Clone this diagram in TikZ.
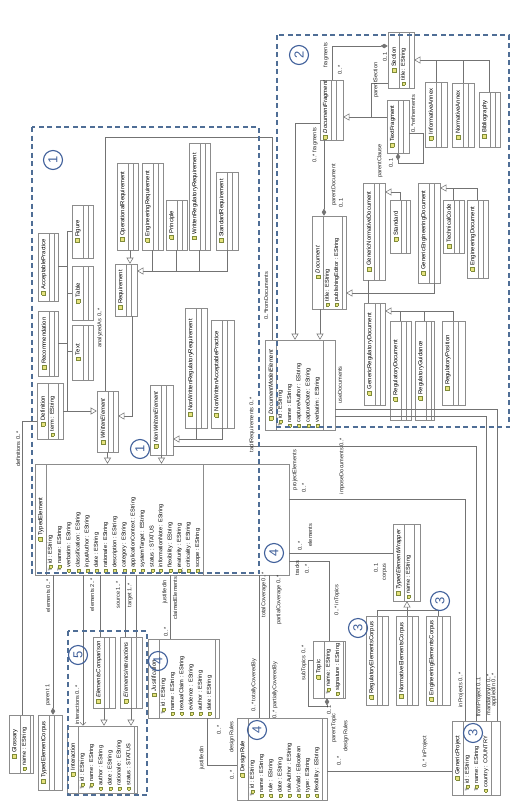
\documentclass[tikz,border=0pt]{standalone}
\usepackage{fontspec}
\setmainfont{Liberation Sans}
\usetikzlibrary{arrows.meta,fit,calc}
\definecolor{clsborder}{HTML}{8C8C8C}
\definecolor{icofill}{HTML}{E6E27C}
\definecolor{icoline}{HTML}{7F8B3A}
\definecolor{grpblue}{HTML}{4F6E96}
\definecolor{circblue}{HTML}{3F5F9A}
\newcommand\tico{{\setlength\fboxsep{0pt}\setlength\fboxrule{0.35pt}\fcolorbox{icoline}{icofill}{\rule{0pt}{3.6pt}\rule{3.6pt}{0pt}}}}
\newcommand\aico{{\setlength\fboxsep{0pt}\setlength\fboxrule{0.3pt}\fcolorbox{icoline}{icofill}{\rule{0pt}{2.6pt}\rule{2.6pt}{0pt}}}}
\newcommand\AT[1]{\aico\hspace{1.3pt}#1}
\newcommand\KT[1]{{\color{gray}Ŧ}\hspace{0.3pt}\aico\hspace{1.3pt}#1}
\tikzset{
 clsnode/.style={draw=clsborder, fill=white, inner sep=0pt, line width=0.6pt},
 clsline/.style={draw=clsborder, line width=0.5pt},
 ttl/.style={rotate=90, inner sep=0pt, font=\fontsize{5.9}{7}\selectfont},
 attr/.style={rotate=90, anchor=west, inner sep=0pt, font=\fontsize{5.6}{6.5}\selectfont},
 lbl/.style={rotate=90, inner sep=0pt, font=\fontsize{5.6}{6.5}\selectfont, text=black!85},
 conn/.style={draw=black!55, line width=0.55pt},
 gen/.style={conn, -{Triangle[length=6pt,width=7pt,fill=white]}},
 comp/.style={conn, {Diamond[length=7pt,width=4.5pt]}-},
 grp/.style={draw=grpblue, line width=1.4pt, dash pattern=on 5pt off 3.5pt},
 circ/.style={draw=circblue, circle, line width=1.1pt, minimum size=19pt, inner sep=0pt, text=circblue, font=\fontsize{13}{13}\selectfont, rotate=90},
}
% #1 name, #2 x1, #3 y1, #4 x2, #5 y2, #6 title, #7 n attrs, #8 attrs
\newcommand\cls[8]{%
 \coordinate (#1-a) at (#2,#3);
 \coordinate (#1-b) at (#4,#5);
 \node[clsnode, fit=(#1-a)(#1-b)] (#1) {};
 \draw[clsline] (#2+11,#3) -- (#2+11,#5);
 \node[ttl] at (#2+5.8,{(#3+#5)/2}) {\tico\hspace{1.5pt}#6};
 \ifnum#7>0
  \foreach \myat [count=\i from 0] in {#8} {\node[attr] at ({#2+15.5+\i*9.2},#5-3) {\myat};}
  \draw[clsline] ({#2+12+#7*9.2},#3) -- ({#2+12+#7*9.2},#5);
 \else
  \draw[clsline] (#2+16,#3) -- (#2+16,#5);
 \fi
}
\begin{document}
\begin{tikzpicture}[x=1pt,y=-1pt]
\useasboundingbox[fill=white] (0,0) rectangle (515,811);

% ---------- group 2 : documents
\cls{Section}{388}{32}{414}{88}{Section}{1}{\AT{title : EString}}
\cls{TextFragment}{387}{100}{409}{153}{TextFragment}{0}{}
\cls{InformativeAnnex}{425}{82}{447}{147}{InformativeAnnex}{0}{}
\cls{NormativeAnnex}{452}{83}{474}{147}{NormativeAnnex}{0}{}
\cls{Bibliography}{479}{92}{500}{147}{Bibliography}{0}{}
\cls{DocumentFragment}{320}{80}{343}{140}{\itshape DocumentFragment}{0}{}
\cls{Document}{312}{216}{346}{309}{\itshape Document}{2}{\AT{title : EString},\AT{publishingEditor : EString}}
\cls{GenericNormativeDocument}{363}{183}{385}{280}{GenericNormativeDocument}{0}{}
\cls{Standard}{390}{200}{410}{253}{Standard}{0}{}
\cls{GenericEngineeringDocument}{418}{183}{440}{283}{GenericEngineeringDocument}{0}{}
\cls{TechnicalCode}{443}{200}{464}{253}{TechnicalCode}{0}{}
\cls{EngineeringDocument}{467}{200}{488}{278}{EngineeringDocument}{0}{}
\cls{GenericRegulatoryDocument}{364}{303}{385}{405}{GenericRegulatoryDocument}{0}{}
\cls{RegulatoryDocument}{390}{321}{411}{420}{RegulatoryDocument}{0}{}
\cls{RegulatoryGuidance}{415}{321}{434}{420}{RegulatoryGuidance}{0}{}
\cls{RegulatoryPosition}{442}{321}{465}{405}{RegulatoryPosition}{0}{}
\cls{DocumentModelElement}{265}{340}{335}{430}{\itshape DocumentModelElement}{5}{\KT{id : EString},\AT{name : EString},\AT{captureAuthor : EString},\AT{captureDate : EString},\AT{verbatim : EString}}

% ---------- group 1 : requirements
\cls{Definition}{37}{383}{63}{439}{Definition}{1}{\AT{term : EString}}
\cls{Recommendation}{38}{311}{58}{376}{Recommendation}{0}{}
\cls{AcceptablePractice}{38}{233}{58}{301}{AcceptablePractice}{0}{}
\cls{Figure}{72}{205}{93}{258}{Figure}{0}{}
\cls{Table}{72}{266}{93}{320}{Table}{0}{}
\cls{Text}{72}{325}{93}{380}{Text}{0}{}
\cls{WrittenElement}{97}{391}{118}{452}{\itshape WrittenElement}{0}{}
\cls{Requirement}{115}{264}{137}{316}{Requirement}{0}{}
\cls{OperationalRequirement}{117}{163}{138}{250}{OperationalRequirement}{0}{}
\cls{EngineeringRequirement}{142}{163}{163}{250}{EngineeringRequirement}{0}{}
\cls{Principle}{166}{200}{187}{250}{Principle}{0}{}
\cls{WrittenRegulatoryRequirement}{189}{143}{210}{250}{WrittenRegulatoryRequirement}{0}{}
\cls{StandardRequirement}{216}{172}{238}{250}{StandardRequirement}{0}{}
\cls{NonWrittenElement}{150}{385}{173}{455}{\itshape NonWrittenElement}{0}{}
\cls{NonWrittenRegulatoryRequirement}{185}{308}{207}{428}{NonWrittenRegulatoryRequirement}{0}{}
\cls{NonWrittenAcceptablePractice}{211}{320}{234}{428}{NonWrittenAcceptablePractice}{0}{}
\cls{TypedElement}{35}{464}{289}{575}{TypedElement}{17}{\KT{id : EString},\KT{name : EString},\AT{verbatim : EString},\AT{classification : EString},\AT{inputAuthor : EString},\AT{date : EString},\AT{rationale : EString},\AT{description : EString},\AT{category : EString},\AT{applicationContext : EString},\AT{systemTarget : EString},\AT{status : STATUS},\AT{informationNote : EString},\AT{flexibility : EString},\AT{maturity : EString},\AT{criticality : EString},\AT{scope : EString}}

% ---------- bottom
\cls{Glossary}{9}{715}{33}{773}{Glossary}{1}{\AT{name : EString}}
\cls{TypedElementCorpus}{38}{715}{62}{790}{TypedElementCorpus}{0}{}
\cls{Interaction}{67}{726}{137}{793}{Interaction}{6}{\KT{id : EString},\KT{name : EString},\AT{author : EString},\AT{date : EString},\AT{rationale : EString},\AT{status : STATUS}}
\cls{ElementsComparison}{93}{637}{115}{708}{\itshape ElementsComparison}{0}{}
\cls{ElementsInteractions}{120}{637}{142}{708}{\itshape ElementsInteractions}{0}{}
\cls{Justification}{148}{639}{219}{718}{\itshape Justification}{6}{\KT{id : EString},\AT{name : EString},\AT{textualClaim : EString},\AT{evidence : EString},\AT{author : EString},\AT{date : EString}}
\cls{DesignRule}{237}{718}{327}{800}{DesignRule}{8}{\KT{id : EString},\AT{name : EString},\AT{rule : EString},\AT{date : EString},\AT{ruleAuthor : EString},\AT{isValid : EBoolean},\AT{type : EString},\AT{flexibility : EString}}
\cls{Topic}{313}{641}{345}{698}{Topic}{2}{\KT{name : EString},\AT{signature : EString}}
\cls{TypedElementWrapper}{393}{524}{420}{601}{\itshape TypedElementWrapper}{1}{\AT{name : EString}}
\cls{RegulatoryElementsCorpus}{366}{616}{388}{705}{RegulatoryElementsCorpus}{0}{}
\cls{NormativeElementsCorpus}{396}{616}{418}{705}{NormativeElementsCorpus}{0}{}
\cls{EngineeringElementsCorpus}{426}{616}{450}{705}{EngineeringElementsCorpus}{0}{}
\cls{GenericProject}{452}{721}{500}{795}{GenericProject}{3}{\KT{id : EString},\KT{name : EString},\AT{country : COUNTRY}}

% ---------- connectors group 2
\draw[conn] (InformativeAnnex.north) -- (436,60);
\draw[conn] (NormativeAnnex.north) -- (463,60);
\draw[conn] (Bibliography.north) |- (436,60);
\draw[gen] (436,60) -- (Section.east |- 0,60);
\draw[conn] (Section.west |- 0,83) -| (371,117);
\draw[gen] (TextFragment.west |- 0,117) -- (DocumentFragment.east |- 0,117);
\draw[comp] (Section.west |- 0,46) -| (DocumentFragment.north -| 332,0);
\draw[comp] (TextFragment.south -| 398,0) -- (398,163) -| (423,133) -- (TextFragment.east |- 0,133);
\draw[comp] (Document.north -| 324,0) -- (DocumentFragment.south -| 324,0);
\draw[gen] (DocumentFragment.west |- 0,123) -| (DocumentModelElement.north -| 295,0);
\draw[gen] (Document.south -| 320,0) -- (DocumentModelElement.north -| 320,0);
\draw[conn] (GenericNormativeDocument.south -| 368,0) -- (GenericRegulatoryDocument.north -| 368,0);
\draw[conn] (GenericEngineeringDocument.south -| 434,0) |- (368,293);
\draw[gen] (368,293) -- (Document.east |- 0,293);
\draw[gen] (Standard.north) |- (GenericNormativeDocument.east |- 0,192);
\draw[conn] (EngineeringDocument.north) |- (453.5,188);
\draw[gen] (TechnicalCode.north) |- (GenericEngineeringDocument.east |- 0,188);
\draw[conn] (RegulatoryPosition.north) |- (400.5,311);
\draw[conn] (RegulatoryGuidance.north) -- (RegulatoryGuidance.north |- 0,311);
\draw[gen] (RegulatoryDocument.north) |- (GenericRegulatoryDocument.east |- 0,311);

% ---------- connectors group 1
\draw[conn] (WrittenElement.north -| 105,0) |- (272,137) -- (DocumentModelElement.north -| 272,0);
\draw[conn] (AcceptablePractice.east |- 0,266) -- (67,266);
\draw[conn] (Recommendation.east |- 0,343) -- (67,343);
\draw[conn] (Figure.west |- 0,231) -| (67,411);
\draw[conn] (Table.west |- 0,293) -- (67,293);
\draw[conn] (Text.west |- 0,351) -- (67,351);
\draw[gen] (Definition.east |- 0,411) -- (WrittenElement.west |- 0,411);
\draw[gen] (OperationalRequirement.south -| 130,0) -- (Requirement.north -| 130,0);
\draw[conn] (StandardRequirement.south) |- (152.5,271);
\draw[conn] (EngineeringRequirement.south) -- (152.5,271);
\draw[conn] (Principle.south) -- (Principle.south |- 0,271);
\draw[conn] (WrittenRegulatoryRequirement.south) -- (WrittenRegulatoryRequirement.south |- 0,271);
\draw[gen] (152.5,271) -- (Requirement.east |- 0,271);
\draw[gen] (Requirement.south -| 132,0) |- (WrittenElement.east |- 0,416);
\draw[conn] (NonWrittenAcceptablePractice.south) |- (NonWrittenRegulatoryRequirement.south |- 0,439);
\draw[conn] (NonWrittenRegulatoryRequirement.south) -- (NonWrittenRegulatoryRequirement.south |- 0,439);
\draw[gen] (NonWrittenRegulatoryRequirement.south |- 0,439) -- (NonWrittenElement.east |- 0,439);
\draw[gen] (WrittenElement.south) -- (TypedElement.north -| WrittenElement.south);
\draw[gen] (NonWrittenElement.south) -- (TypedElement.north -| NonWrittenElement.south);
\draw[conn] (Glossary.north -| 22,0) |- (Definition.west |- 0,421);

% ---------- connectors bottom
\draw[comp] (TypedElementCorpus.north -| 53,0) -- (TypedElement.south -| 53,0);
\draw[conn,-{Straight Barb[length=3pt]}] (TypedElement.south -| 83,0) -- (Interaction.north -| 83,0);
\draw[conn] (TypedElement.south -| 100,0) -- (ElementsComparison.north -| 100,0);
\draw[conn] (TypedElement.south -| 125,0) -- (ElementsInteractions.north -| 125,0);
\draw[conn] (TypedElement.south -| 136,0) -- (ElementsInteractions.north -| 136,0);
\draw[gen] (ElementsComparison.south) -- (Interaction.north -| ElementsComparison.south);
\draw[gen] (ElementsInteractions.south) -- (Interaction.north -| ElementsInteractions.south);
\draw[conn] (TypedElement.south -| 170,0) -- (Justification.north -| 170,0);
\draw[conn] (Justification.south -| 207,0) |- (DesignRule.west |- 0,765);
\draw[conn] (TypedElement.south -| 259,0) -- (DesignRule.north -| 259,0);
\draw[conn] (TypedElement.south -| 269,0) -- (DesignRule.north -| 269,0);
\draw[conn] (DesignRule.east |- 0,771) -- (GenericProject.west |- 0,771);
\draw[conn] (TypedElement.east |- 0,553) -- (TypedElementWrapper.west |- 0,553);
\draw[conn] (TypedElement.east |- 0,561) -| (Topic.north -| 329,0);
\draw[comp] (Topic.south -| 327,0) -- (327,706) -| (308,660) -- (Topic.west |- 0,660);
\draw[conn] (RegulatoryElementsCorpus.north) |- (438,610) -- (EngineeringElementsCorpus.north);
\draw[conn] (NormativeElementsCorpus.north) -- (407,610);
\draw[gen] (407,610) -- (TypedElementWrapper.south -| 407,0);
\draw[conn] (TypedElement.east |- 0,499) -| (GenericProject.north -| 465,0);
\draw[conn] (NonWrittenElement.east |- 0,446) -| (GenericProject.north -| 476,0);
\draw[conn] (DocumentModelElement.east |- 0,416) -| (GenericProject.north -| 486,0);
\draw[conn] (DocumentModelElement.east |- 0,409) -| (GenericProject.north -| 497,0);

% ---------- labels
\node[lbl] at (18,449) {definitions 0..*};
\node[lbl] at (100,328) {analyzedAs 0..*};
\node[lbl] at (266,296) {0..*fromDocuments};
\node[lbl] at (252,425) {tacitRequirements 0..*};
\node[lbl] at (340,385) {useDocuments};
\node[lbl] at (342,466) {imposeDocuments 0..*};
\node[lbl] at (295,470) {projectElements};
\node[lbl] at (304,488) {0..*};
\node[lbl] at (300,546) {0..*};
\node[lbl] at (310,535) {elements};
\node[lbl] at (297,568) {tracks};
\node[lbl] at (307,569) {0..*};
\node[lbl] at (337,600) {0..* inTopics};
\node[lbl] at (264,595) {totalCoverage 0..*};
\node[lbl] at (279,600) {partialCoverage 0..*};
\node[lbl] at (254,685) {0..* totallyCoveredBy};
\node[lbl] at (275,690) {0..* partiallyCoveredBy};
\node[lbl] at (304,663) {subTopics 0..*};
\node[lbl] at (334,728) {parentTopic};
\node[lbl] at (329,710) {0..1};
\node[lbl] at (346,736) {designRules};
\node[lbl] at (339,761) {0..*};
\node[lbl] at (425,752) {0..* inProject};
\node[lbl] at (461,690) {inProjects 0..*};
\node[lbl] at (479,697) {fromProject 0..1};
\node[lbl] at (489,695) {mandatoryIn 0..*};
\node[lbl] at (494,690) {appliedIn 0..*};
\node[lbl] at (376,568) {0..1};
\node[lbl] at (385,572) {corpus};
\node[lbl] at (48,596) {elements 0..*};
\node[lbl] at (48,695) {parent 1};
\node[lbl] at (77,705) {interactions 0..*};
\node[lbl] at (92,595) {elements 2..*};
\node[lbl] at (118,595) {source 1..*};
\node[lbl] at (130,595) {target 1..*};
\node[lbl] at (165,592) {justifiedIn};
\node[lbl] at (166,632) {0..*};
\node[lbl] at (175,598) {claimedElements};
\node[lbl] at (181,570) {1..*};
\node[lbl] at (202,758) {justifiedIn};
\node[lbl] at (219,730) {0..*};
\node[lbl] at (232,737) {designRules};
\node[lbl] at (232,775) {0..*};
\node[lbl] at (326,55) {fragments};
\node[lbl] at (340,70) {0..*};
\node[lbl] at (376,80) {parentSection};
\node[lbl] at (385,57) {0..1};
\node[lbl] at (315,145) {0..* fragments};
\node[lbl] at (334,185) {parentDocument};
\node[lbl] at (341,203) {0..1};
\node[lbl] at (380,161) {parentClause};
\node[lbl] at (391,163) {0..1};
\node[lbl] at (413,114) {0..*refinements};

% ---------- groups and numbers
\draw[grp] (32,127) rectangle (259,573);
\draw[grp] (277,35) rectangle (509,427);
\draw[grp] (68,631) rectangle (147,795);
\node[circ] at (53,160) {1};
\node[circ] at (140,449) {1};
\node[circ] at (299,55) {2};
\node[circ] at (274,553) {4};
\node[circ] at (440,601) {3};
\node[circ] at (358,628) {3};
\node[circ] at (473,733) {3};
\node[circ] at (257,730) {4};
\node[circ] at (158,661) {4};
\node[circ] at (78,655) {5};
\end{tikzpicture}
\end{document}
